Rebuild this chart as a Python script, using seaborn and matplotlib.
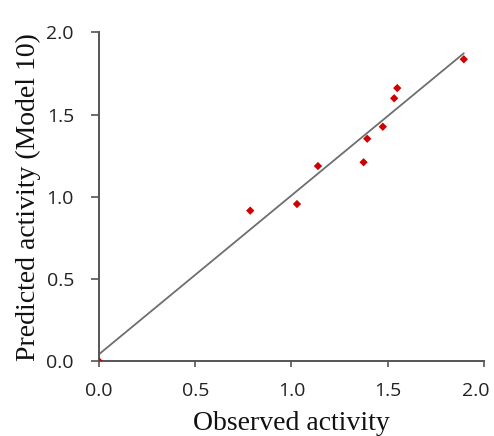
"""Observed vs predicted activity scatter (Model 10)."""
import matplotlib
matplotlib.use("Agg")
import matplotlib.pyplot as plt
import matplotlib.transforms as mtransforms
import numpy as np
import pandas as pd
import seaborn as sns

# values
observed = [0.0, 0.786, 1.029, 1.138, 1.375, 1.394, 1.475, 1.534, 1.550, 1.896]
predicted = [0.0, 0.916, 0.956, 1.187, 1.210, 1.353, 1.426, 1.599, 1.661, 1.836]
fit_slope = 0.965
fit_intercept = 0.043
tick_values = [0.0, 0.5, 1.0, 1.5, 2.0]
tick_labels = ["0.0", "0.5", "1.0", "1.5", "2.0"]

sns.set_theme(style="ticks")
plt.rcParams["font.family"] = ["Open Sans", "DejaVu Sans"]

df = pd.DataFrame({"observed": observed, "predicted": predicted})
x_fit = np.array([0.0, max(observed)])
fit = pd.DataFrame({"x": x_fit, "y": fit_intercept + fit_slope * x_fit})

fig = plt.figure(figsize=(4.94, 4.36), dpi=100)
ax = fig.add_axes([0.2004, 0.1713, 0.7790, 0.7546])

sns.lineplot(data=fit, x="x", y="y", color="#6e6e6e", linewidth=1.3, ax=ax)
sns.scatterplot(data=df, x="observed", y="predicted", marker="D", s=18,
                color="#d00000", edgecolor="none", ax=ax, zorder=3)

ax.set_xlim(0, 2.0)
ax.set_ylim(0, 2.0)
ax.set_xticks(tick_values)
ax.set_xticklabels(tick_labels)
ax.set_yticks(tick_values)
ax.set_yticklabels(tick_labels)
ax.tick_params(axis="both", direction="out", width=1.2, color="#555555",
               labelsize=14, labelcolor="#222222")
ax.tick_params(axis="x", length=4, pad=11)
ax.tick_params(axis="y", length=6, pad=12)

# last x label sits left of its tick, as in the reference
last = ax.get_xticklabels()[-1]
last.set_horizontalalignment("right")
last.set_transform(last.get_transform() + mtransforms.ScaledTranslation(6 / 100, 0, fig.dpi_scale_trans))

for side in ["top", "right"]:
    ax.spines[side].set_visible(False)
for side in ["left", "bottom"]:
    ax.spines[side].set_color("#555555")
    ax.spines[side].set_linewidth(1.4)

label_font = {"family": "Liberation Serif", "size": 20, "color": "#111111"}
ax.set_xlabel("Observed activity", fontdict=label_font, labelpad=8)
ax.set_ylabel("Predicted activity (Model 10)", fontdict=label_font, labelpad=4)

fig.savefig("out.png", dpi=100)
plt.close(fig)
